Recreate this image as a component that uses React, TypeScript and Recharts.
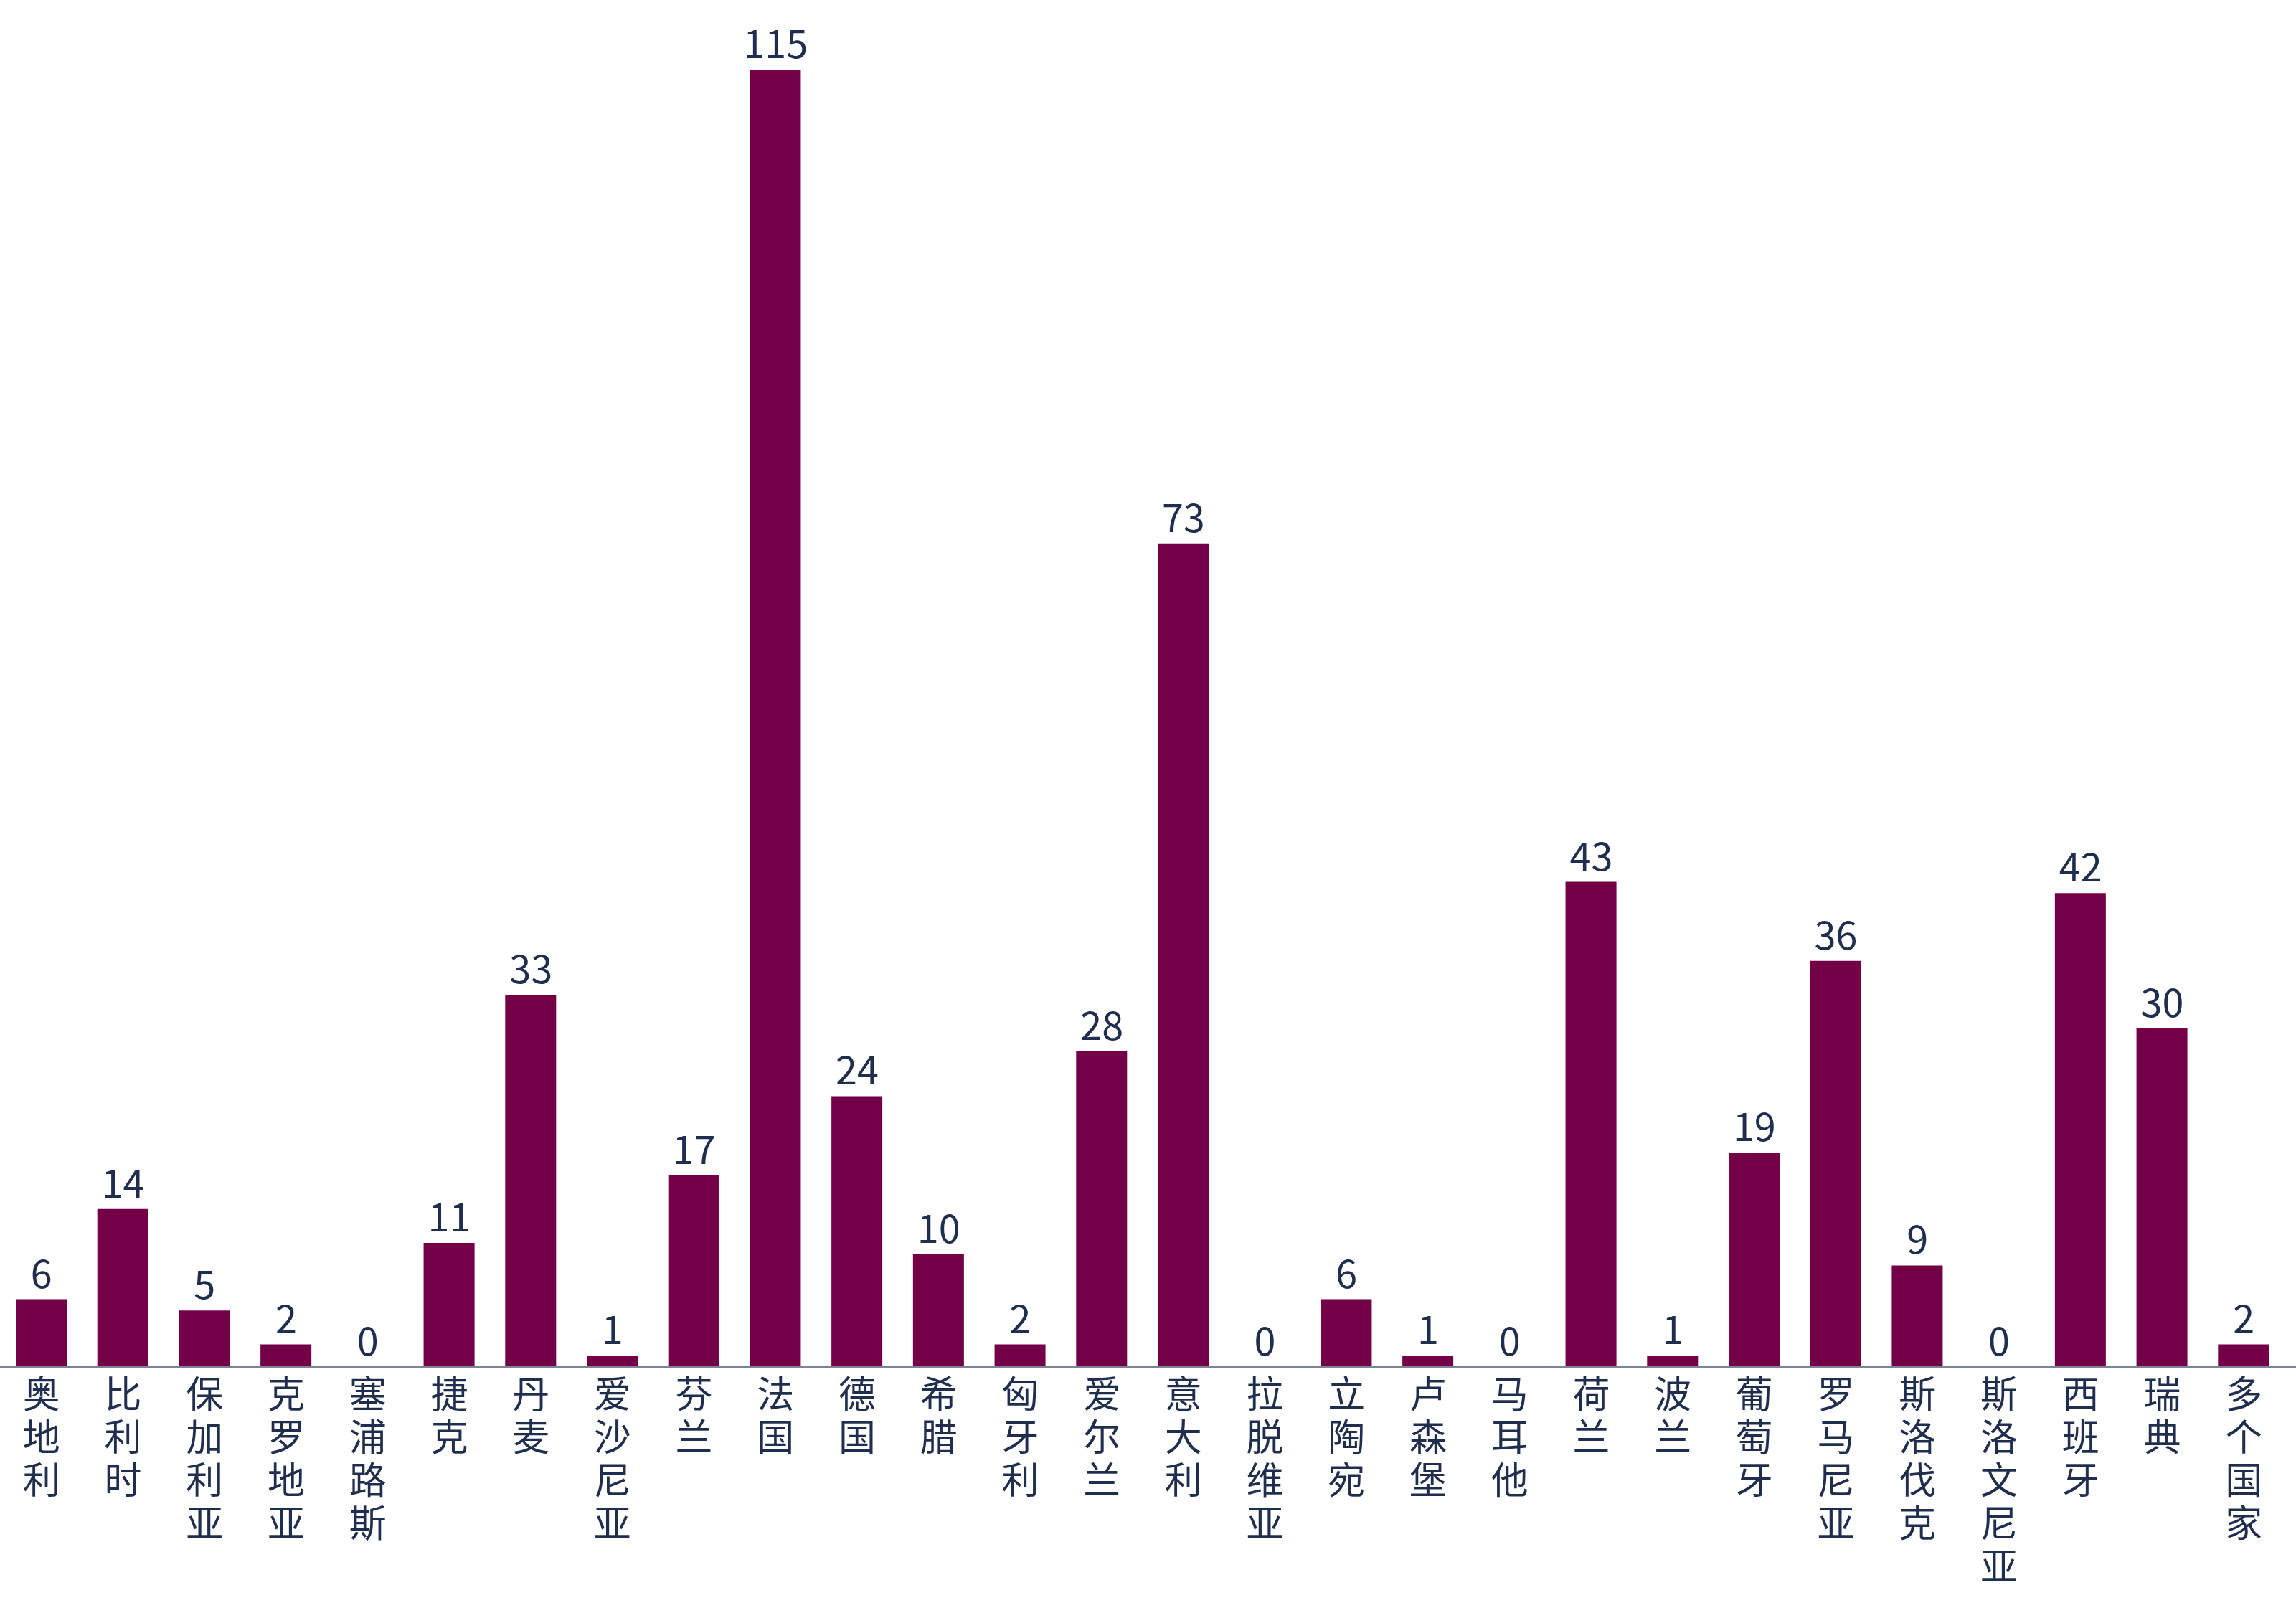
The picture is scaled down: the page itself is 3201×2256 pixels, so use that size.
import React from 'react';
import { ComposedChart, Bar, Line, XAxis, YAxis, LabelList } from 'recharts';

const categories = ['奥地利', '比利时', '保加利亚', '克罗地亚', '塞浦路斯', '捷克', '丹麦', '爱沙尼亚', '芬兰', '法国', '德国', '希腊', '匈牙利', '爱尔兰', '意大利', '拉脱维亚', '立陶宛', '卢森堡', '马耳他', '荷兰', '波兰', '葡萄牙', '罗马尼亚', '斯洛伐克', '斯洛文尼亚', '西班牙', '瑞典', '多个国家'];
const values = [6, 14, 5, 2, 0, 11, 33, 1, 17, 115, 24, 10, 2, 28, 73, 0, 6, 1, 0, 43, 1, 19, 36, 9, 0, 42, 30, 2];

const data = categories.map((name, i) => ({ name, value: values[i] }));

const FONT = '"Noto Sans CJK SC", "Noto Sans", sans-serif';
const TEXT = '#1f2d4f';
const BAR = '#730046';

const VerticalTick = (props: any) => {
  const { x, y, payload } = props;
  const chars = String(payload.value).split('');
  return (
    <text x={x} y={y} textAnchor="middle" fill={TEXT} fontSize={52} fontFamily={FONT}>
      {chars.map((c, i) => (
        <tspan key={i} x={x} dy={i === 0 ? 57 : 60}>{c}</tspan>
      ))}
    </text>
  );
};

const ValueLabel = (props: any) => {
  const { x, y, value } = props;
  return (
    <text x={x} y={y - 16} textAnchor="middle" fill={TEXT} fontSize={54} fontFamily={FONT}>
      {String(value)}
    </text>
  );
};

export default function App() {
  return (
    <div style={{ position: 'absolute', left: 0, top: 0, width: 3201, height: 2256, background: '#fff' }}>
      <ComposedChart width={3201} height={2256} data={data} margin={{ top: 97, right: 0, bottom: 10, left: 0 }} barSize={71}>
        <XAxis
          dataKey="name"
          interval={0}
          height={340}
          tickLine={false}
          tickSize={0}
          tickMargin={0}
          axisLine={{ stroke: '#7d8296', strokeWidth: 2 }}
          tick={<VerticalTick />}
          padding={{ left: 1, right: 16 }}
        />
        <YAxis hide domain={[0, 115]} />
        <Bar dataKey="value" fill={BAR} isAnimationActive={false} />
        <Line dataKey="value" stroke="none" dot={false} activeDot={false} isAnimationActive={false} legendType="none">
          <LabelList dataKey="value" content={<ValueLabel />} />
        </Line>
      </ComposedChart>
    </div>
  );
}
